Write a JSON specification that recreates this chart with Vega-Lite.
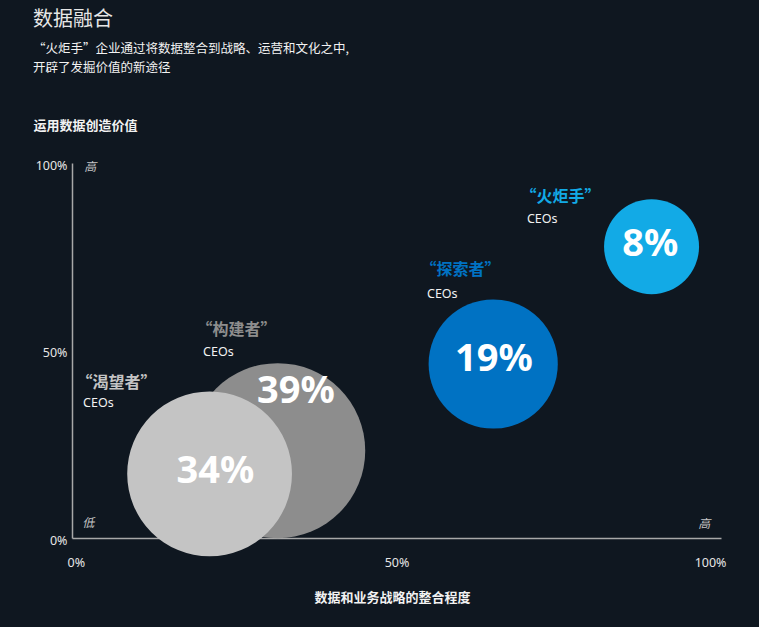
{
  "$schema": "https://vega.github.io/schema/vega-lite/v6.json",
  "autosize": "none",
  "width": 649,
  "height": 375,
  "padding": {"left": 72, "top": 163, "right": 38, "bottom": 89},
  "background": "#0f1720",
  "config": {
    "view": {"stroke": "transparent"},
    "font": "Noto Sans CJK SC"
  },
  "title": {
    "text": "数据融合",
    "subtitle": ["“火炬手”企业通过将数据整合到战略、运营和文化之中,", "开辟了发掘价值的新途径"],
    "anchor": "start",
    "frame": "group",
    "dx": -39,
    "offset": 45,
    "font": "Noto Sans CJK SC",
    "fontSize": 20,
    "fontWeight": "normal",
    "color": "#e6e6e6",
    "subtitleFont": "Noto Sans CJK SC",
    "subtitleFontSize": 12.5,
    "subtitleColor": "#f2f2f2",
    "subtitlePadding": 13,
    "subtitleLineHeight": 19
  },
  "datasets": {
    "bubbles": [
      {"group": "构建者", "x": 0.317, "y": 0.233, "pct": 39, "label": "39%", "lx": 0.345, "ly": 0.39},
      {"group": "渴望者", "x": 0.212, "y": 0.171, "pct": 34, "label": "34%", "lx": 0.221, "ly": 0.176},
      {"group": "探索者", "x": 0.649, "y": 0.464, "pct": 19, "label": "19%", "lx": 0.65, "ly": 0.475},
      {"group": "火炬手", "x": 0.893, "y": 0.777, "pct": 8, "label": "8%", "lx": 0.891, "ly": 0.781}
    ],
    "names": [
      {"group": "渴望者", "name": "“渴望者”", "x": 0.007, "y": 0.413, "cx": 0.017, "cy": 0.36},
      {"group": "构建者", "name": "“构建者”", "x": 0.192, "y": 0.555, "cx": 0.202, "cy": 0.496},
      {"group": "探索者", "name": "“探索者”", "x": 0.537, "y": 0.715, "cx": 0.547, "cy": 0.651},
      {"group": "火炬手", "name": "“火炬手”", "x": 0.691, "y": 0.909, "cx": 0.701, "cy": 0.851}
    ],
    "corners": [
      {"t": "高", "x": 0.028, "y": 0.989},
      {"t": "低", "x": 0.025, "y": 0.04},
      {"t": "高", "x": 0.974, "y": 0.037}
    ]
  },
  "layer": [
    {
      "data": {"name": "bubbles"},
      "mark": {"type": "point", "shape": "circle", "filled": true, "opacity": 1, "strokeWidth": 0},
      "encoding": {
        "x": {
          "field": "x", "type": "quantitative",
          "scale": {"domain": [0, 1], "nice": false},
          "axis": {
            "values": [0, 0.5, 1], "format": ".0%", "grid": false, "ticks": false,
            "domainColor": "#a8a8a8", "domainWidth": 1.5,
            "labelColor": "#e6e6e6", "labelFont": "Noto Sans", "labelFontSize": 12.5,
            "labelPadding": 18, "labelFlush": true, "labelFlushOffset": 5,
            "title": "数据和业务战略的整合程度", "titleColor": "#f2f2f2", "titleFontSize": 13,
            "titleFontWeight": "bold", "titleY": 59, "titleX": 320, "titleBaseline": "middle"
          }
        },
        "y": {
          "field": "y", "type": "quantitative",
          "scale": {"domain": [0, 1], "nice": false},
          "axis": {
            "values": [0, 0.5, 1], "format": ".0%", "grid": false, "ticks": false,
            "domainColor": "#a8a8a8", "domainWidth": 1.5,
            "labelColor": "#e6e6e6", "labelFont": "Noto Sans", "labelFontSize": 12.5,
            "labelPadding": 5, "labelOffset": 2,
            "title": "运用数据创造价值", "titleColor": "#f2f2f2", "titleFontSize": 13,
            "titleFontWeight": "bold", "titleAngle": 0, "titleAlign": "left",
            "titleBaseline": "middle", "titleX": -39, "titleY": -38
          }
        },
        "size": {
          "field": "pct", "type": "quantitative",
          "scale": {"type": "linear", "zero": false, "domain": [8, 39], "range": [9025, 30625]},
          "legend": null
        },
        "color": {
          "field": "group", "type": "nominal",
          "scale": {"domain": ["渴望者", "构建者", "探索者", "火炬手"], "range": ["#c4c4c4", "#8d8d8d", "#0072c3", "#12aae6"]},
          "legend": null
        }
      }
    },
    {
      "data": {"name": "bubbles"},
      "mark": {"type": "text", "font": "Noto Sans", "fontSize": 38, "fontWeight": "bold", "color": "#ffffff", "align": "center", "baseline": "middle"},
      "encoding": {
        "x": {"field": "lx", "type": "quantitative"},
        "y": {"field": "ly", "type": "quantitative"},
        "text": {"field": "label"}
      }
    },
    {
      "data": {"name": "names"},
      "mark": {"type": "text", "fontSize": 16, "fontWeight": "bold", "align": "left", "baseline": "middle"},
      "encoding": {
        "x": {"field": "x", "type": "quantitative"},
        "y": {"field": "y", "type": "quantitative"},
        "text": {"field": "name"},
        "color": {
          "field": "group", "type": "nominal",
          "scale": {"domain": ["渴望者", "构建者", "探索者", "火炬手"], "range": ["#c4c4c4", "#8d8d8d", "#0072c3", "#12aae6"]},
          "legend": null
        }
      }
    },
    {
      "data": {"name": "names"},
      "mark": {"type": "text", "font": "Noto Sans", "fontSize": 12.5, "color": "#f2f2f2", "align": "left", "baseline": "middle"},
      "encoding": {
        "x": {"field": "cx", "type": "quantitative"},
        "y": {"field": "cy", "type": "quantitative"},
        "text": {"value": "CEOs"}
      }
    },
    {
      "data": {"name": "corners"},
      "mark": {"type": "text", "fontSize": 12, "fontStyle": "italic", "color": "#c6c6c6", "align": "center", "baseline": "middle"},
      "encoding": {
        "x": {"field": "x", "type": "quantitative"},
        "y": {"field": "y", "type": "quantitative"},
        "text": {"field": "t"}
      }
    }
  ]
}
